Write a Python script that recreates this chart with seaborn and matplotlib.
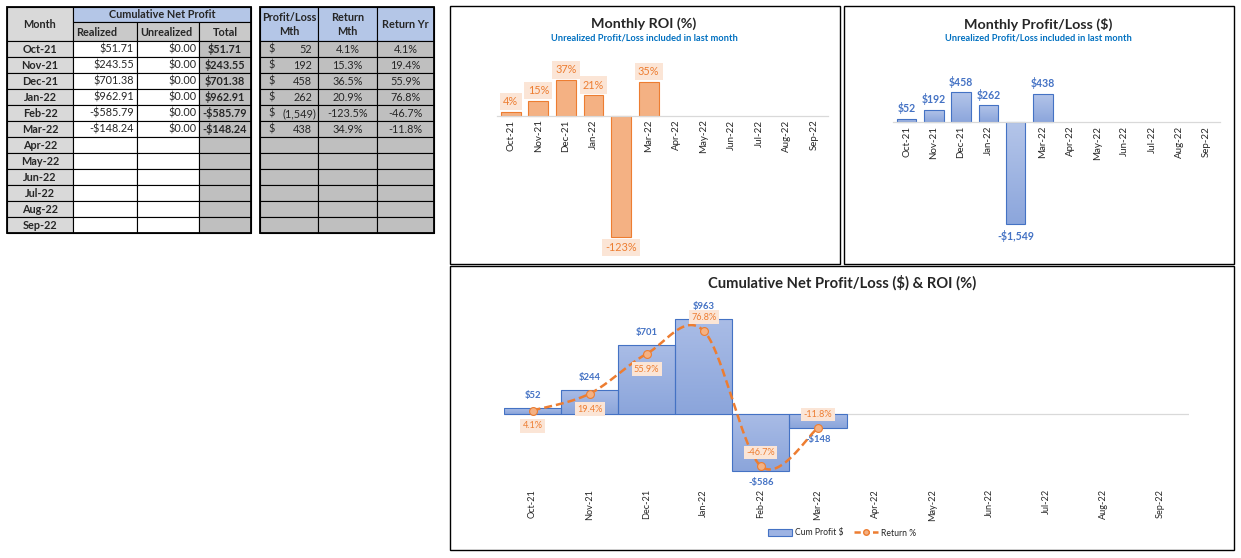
import numpy as np
import pandas as pd
import matplotlib
matplotlib.use('Agg')
import matplotlib.pyplot as plt
import seaborn as sns
from matplotlib.patches import Rectangle, Patch
from matplotlib.lines import Line2D
from matplotlib.colors import LinearSegmentedColormap

# data read from the sheet
months = ['Oct-21', 'Nov-21', 'Dec-21', 'Jan-22', 'Feb-22', 'Mar-22',
          'Apr-22', 'May-22', 'Jun-22', 'Jul-22', 'Aug-22', 'Sep-22']
realized = [51.71, 243.55, 701.38, 962.91, -585.79, -148.24]
unrealized = [0.00, 0.00, 0.00, 0.00, 0.00, 0.00]
total = [51.71, 243.55, 701.38, 962.91, -585.79, -148.24]
pl_month = [52, 192, 458, 262, -1549, 438]
return_mth = [4.1, 15.3, 36.52, 20.9, -123.48, 34.9]
return_yr = [4.1, 19.4, 55.9, 76.8, -46.7, -11.8]

n = len(total)
df = pd.DataFrame({'Month': months[:n], 'ROI': return_mth, 'PL': pl_month,
                   'Cum': total, 'RetYr': return_yr})

W, H = 1241, 558
ORANGE = '#ED7D31'
ORANGE_FILL = '#F4B183'
ORANGE_BG = '#FBE5D6'
BLUE = '#4472C4'

sns.set_style('white')
plt.rcParams['font.family'] = ['Lato', 'DejaVu Sans']

fig = plt.figure(figsize=(W / 100, H / 100), dpi=100)


def fr(x0, y0, x1, y1):
    return [x0 / W, 1 - y1 / H, (x1 - x0) / W, (y1 - y0) / H]


def money(v, dec=2):
    s = '${:,.{d}f}'.format(abs(v), d=dec)
    return '-' + s if v < 0 else s


def gradient_bars(ax, top='#B4C5E9', bottom='#8CA6DC'):
    cmap = LinearSegmentedColormap.from_list('g', [bottom, top])
    xl, yl = ax.get_xlim(), ax.get_ylim()
    for p in list(ax.patches):
        x, y, w, h = p.get_x(), p.get_y(), p.get_width(), p.get_height()
        y0, y1 = min(y, y + h), max(y, y + h)
        im = ax.imshow(np.linspace(0, 1, 64).reshape(-1, 1), cmap=cmap, aspect='auto',
                       extent=[x, x + w, y0, y1], origin='lower',
                       zorder=p.get_zorder() - 0.1, interpolation='bilinear')
        im.set_clip_path(p)
        p.set_facecolor('none')
    ax.set_xlim(xl)
    ax.set_ylim(yl)


def style_small(ax, ylim):
    ax.set_facecolor('none')
    ax.set_xlim(-0.5, 11.5)
    ax.set_ylim(ylim)
    sns.despine(ax=ax, left=True)
    ax.spines['bottom'].set_position(('data', 0))
    ax.spines['bottom'].set_color('#D9D9D9')
    ax.spines['bottom'].set_linewidth(0.9)
    ax.set_yticks([])
    ax.set_xlabel('')
    ax.set_ylabel('')
    ax.set_xticks(range(12))
    ax.set_xticklabels(months, rotation=90, fontsize=7, color='#262626')
    ax.set_xticks(np.arange(-0.5, 12, 1), minor=True)
    ax.tick_params(axis='x', which='major', length=0, pad=2.5)
    ax.tick_params(axis='x', which='minor', length=3, color='#D9D9D9', width=0.8)


# ---- background canvas for tables, frames, titles (pixel coords)
ax_t = fig.add_axes([0, 0, 1, 1], zorder=0)
ax_t.set_xlim(0, W)
ax_t.set_ylim(H, 0)
ax_t.axis('off')

FS = 7.8


def cell(x0, x1, y0, y1, text='', fc='white', ha='center', bold=False, pad=3):
    ax_t.add_patch(Rectangle((x0, y0), x1 - x0, y1 - y0, facecolor=fc,
                             edgecolor='black', lw=0.8))
    if text:
        tx = {'center': (x0 + x1) / 2, 'left': x0 + pad, 'right': x1 - pad}[ha]
        ax_t.text(tx, (y0 + y1) / 2 + 0.5, text, ha=ha, va='center', fontsize=FS,
                  fontweight='bold' if bold else 'normal', linespacing=1.25)


# left table
c1 = [7, 73, 137, 199, 251]
c2 = [260, 318, 377, 434]
top, mid, hdr = 7, 22, 41
rh = (232.5 - hdr) / 12

cell(c1[0], c1[1], top, hdr, 'Month', '#D9D9D9', bold=True)
cell(c1[1], c1[4], top, mid, 'Cumulative Net Profit', '#B4C6E7', bold=True)
cell(c1[1], c1[2], mid, hdr, 'Realized', '#C9C9C9', ha='left', bold=True)
cell(c1[2], c1[3], mid, hdr, 'Unrealized', '#C9C9C9', ha='left', bold=True)
cell(c1[3], c1[4], mid, hdr, 'Total', '#C9C9C9', bold=True)

cell(c2[0], c2[1], top, hdr, 'Profit/Loss\nMth', '#B4C6E7', bold=True)
cell(c2[1], c2[2], top, hdr, 'Return\nMth', '#B4C6E7', bold=True)
cell(c2[2], c2[3], top, hdr, 'Return Yr', '#B4C6E7', bold=True)

for i, m in enumerate(months):
    y0, y1 = hdr + i * rh, hdr + (i + 1) * rh
    cell(c1[0], c1[1], y0, y1, m, '#D9D9D9', bold=True)
    has = i < n
    cell(c1[1], c1[2], y0, y1, money(realized[i]) if has else '', 'white', ha='right', pad=3)
    cell(c1[2], c1[3], y0, y1, money(unrealized[i]) if has else '', 'white', ha='right', pad=2)
    cell(c1[3], c1[4], y0, y1, money(total[i]) if has else '', '#BFBFBF', bold=True)
    cell(c2[0], c2[1], y0, y1, '', '#BFBFBF')
    cell(c2[1], c2[2], y0, y1, '{:.1f}%'.format(return_mth[i]) if has else '', '#BFBFBF')
    cell(c2[2], c2[3], y0, y1, '{:.1f}%'.format(return_yr[i]) if has else '', '#BFBFBF')
    if has:
        ym = (y0 + y1) / 2 + 0.5
        ax_t.text(c2[0] + 8, ym, '$', ha='left', va='center', fontsize=FS)
        v = pl_month[i]
        txt = '({:,.0f})'.format(-v) if v < 0 else '{:,.0f}'.format(v)
        ax_t.text(c2[1] - (2 if v < 0 else 6), ym, txt, ha='right', va='center', fontsize=FS)

for xa, xb in [(c1[0], c1[4]), (c2[0], c2[3])]:
    ax_t.add_patch(Rectangle((xa, top), xb - xa, 232.5 - top, facecolor='none',
                             edgecolor='black', lw=1.3))

# chart frames and titles
for x0, y0, x1, y1 in [(450, 6, 840, 264), (844, 6, 1234, 264), (450, 266, 1234, 550)]:
    ax_t.add_patch(Rectangle((x0, y0), x1 - x0, y1 - y0, facecolor='none',
                             edgecolor='black', lw=1.0))

sub = 'Unrealized Profit/Loss included in last month'
ax_t.text(644, 24, 'Monthly ROI (%)', ha='center', va='center', fontsize=10.3, fontweight='bold')
ax_t.text(644, 38, sub, ha='center', va='center', fontsize=6.7, fontweight='bold', color='#0070C0')
ax_t.text(1038, 24, 'Monthly Profit/Loss ($)', ha='center', va='center', fontsize=10.3, fontweight='bold')
ax_t.text(1038, 38, sub, ha='center', va='center', fontsize=6.7, fontweight='bold', color='#0070C0')
ax_t.text(842, 283, 'Cumulative Net Profit/Loss ($) & ROI (%)', ha='center', va='center',
          fontsize=10.6, fontweight='bold')

# ---- Monthly ROI
ax1 = fig.add_axes(fr(497, 50, 828, 245), zorder=2)
sns.barplot(data=df, x='Month', y='ROI', order=months, color=ORANGE_FILL, saturation=1,
            edgecolor=ORANGE, linewidth=0.8, width=0.72, errorbar=None, ax=ax1)
style_small(ax1, (-131.6, 67.3))
for i, v in enumerate(return_mth):
    ax1.annotate('{:.0f}%'.format(v), (i, v), xytext=(0, 7.5 if v > 0 else -7.5),
                 textcoords='offset points', ha='center', va='center', fontsize=7.8,
                 color=ORANGE, annotation_clip=False,
                 bbox=dict(boxstyle='square,pad=0.3', fc=ORANGE_BG, ec='none'))

# ---- Monthly Profit/Loss
ax2 = fig.add_axes(fr(893, 50, 1220, 245), zorder=2)
sns.barplot(data=df, x='Month', y='PL', order=months, color='#9DB3E3', saturation=1,
            edgecolor=BLUE, linewidth=0.8, width=0.72, errorbar=None, ax=ax2)
style_small(ax2, (-1873, 1104))
gradient_bars(ax2)
for i, v in enumerate(pl_month):
    ax2.annotate(money(v, 0), (i, v), xytext=(0, 7.5 if v > 0 else -8.5),
                 textcoords='offset points', ha='center', va='center', fontsize=7.6,
                 fontweight='bold', color=BLUE, annotation_clip=False)

# ---- Cumulative profit & return
ax3 = fig.add_axes(fr(504, 300, 1189, 484), zorder=2)
sns.barplot(data=df, x='Month', y='Cum', order=months, color='#9DB3E3', saturation=1,
            edgecolor=BLUE, linewidth=0.8, width=1.0, errorbar=None, ax=ax3)
ax3.set_facecolor('none')
ax3.set_xlim(-0.5, 11.5)
ax3.set_ylim(-719, 1158)
gradient_bars(ax3, top='#A9BCE6', bottom='#8BA5DB')
ax3.axhline(0, color='#D9D9D9', lw=0.9, zorder=0.5)
sns.despine(ax=ax3, left=True, bottom=True)
ax3.set_yticks([])
ax3.set_xlabel('')
ax3.set_ylabel('')
ax3.set_xticks(range(12))
ax3.set_xticklabels(months, rotation=90, fontsize=6.6, color='#262626')
ax3.tick_params(axis='x', length=0, pad=3.6)
for i, v in enumerate(total):
    ax3.annotate(money(v, 0), (i, v), xytext=(0, 9 if v > 0 else -8.5),
                 textcoords='offset points', ha='center', va='center', fontsize=6.8,
                 fontweight='bold', color=BLUE, annotation_clip=False)

ax3b = ax3.twinx()
ax3b.set_ylim(-63, 105)
ax3b.set_yticks([])
ax3b.set_facecolor('none')
for s in ax3b.spines.values():
    s.set_visible(False)

# smoothed line like Excel (bezier through points, in screen proportion)
bb = ax3.get_position()
px_cat = bb.width * W / 12
px_pct = bb.height * H / (105 + 63)
sx = px_cat / px_pct
P = np.column_stack([np.arange(n) * sx, return_yr])
curve = []
for i in range(n - 1):
    p0 = P[i - 1] if i > 0 else P[i]
    p3 = P[i + 2] if i + 2 < n else P[i + 1]
    p1, p2 = P[i], P[i + 1]
    k1 = p1 + (p2 - p0) / 6
    k2 = p2 - (p3 - p1) / 6
    t = np.linspace(0, 1, 40)[:, None]
    seg = (1 - t) ** 3 * p1 + 3 * (1 - t) ** 2 * t * k1 + 3 * (1 - t) * t ** 2 * k2 + t ** 3 * p2
    curve.append(seg if i == 0 else seg[1:])
curve = np.vstack(curve)
ax3b.plot(curve[:, 0] / sx, curve[:, 1], color=ORANGE, lw=1.8, ls=(0, (3.2, 1.6)), zorder=3)
sns.scatterplot(x=np.arange(n), y=return_yr, ax=ax3b, s=32, color=ORANGE_FILL,
                edgecolor=ORANGE, linewidth=0.8, zorder=4, legend=False)
ax3b.set_xlim(-0.5, 11.5)
ax3b.set_ylabel('')
label_side = ['below', 'below', 'below', 'above', 'above', 'above']
for i, v in enumerate(return_yr):
    off = 9.8 if label_side[i] == 'above' else -11
    ax3b.annotate('{:.1f}%'.format(v), (i, v), xytext=(0, off), textcoords='offset points',
                  ha='center', va='center', fontsize=6.6, color=ORANGE, annotation_clip=False,
                  bbox=dict(boxstyle='square,pad=0.25', fc=ORANGE_BG, ec='none'), zorder=5)

handles = [Patch(facecolor='#9DB3E3', edgecolor=BLUE, lw=0.8, label='Cum Profit $'),
           Line2D([], [], color=ORANGE, lw=1.8, ls=(0, (2.5, 1.2)), marker='o', markersize=4,
                  markerfacecolor=ORANGE_FILL, markeredgecolor=ORANGE, label='Return %')]
fig.legend(handles=handles, loc='center', bbox_to_anchor=(842 / W, 1 - 533 / H), ncol=2,
           frameon=False, fontsize=6.2, handlelength=2.8, handleheight=0.9, columnspacing=1.2,
           handletextpad=0.3)

plt.savefig('out.png', dpi=100, facecolor='white')
